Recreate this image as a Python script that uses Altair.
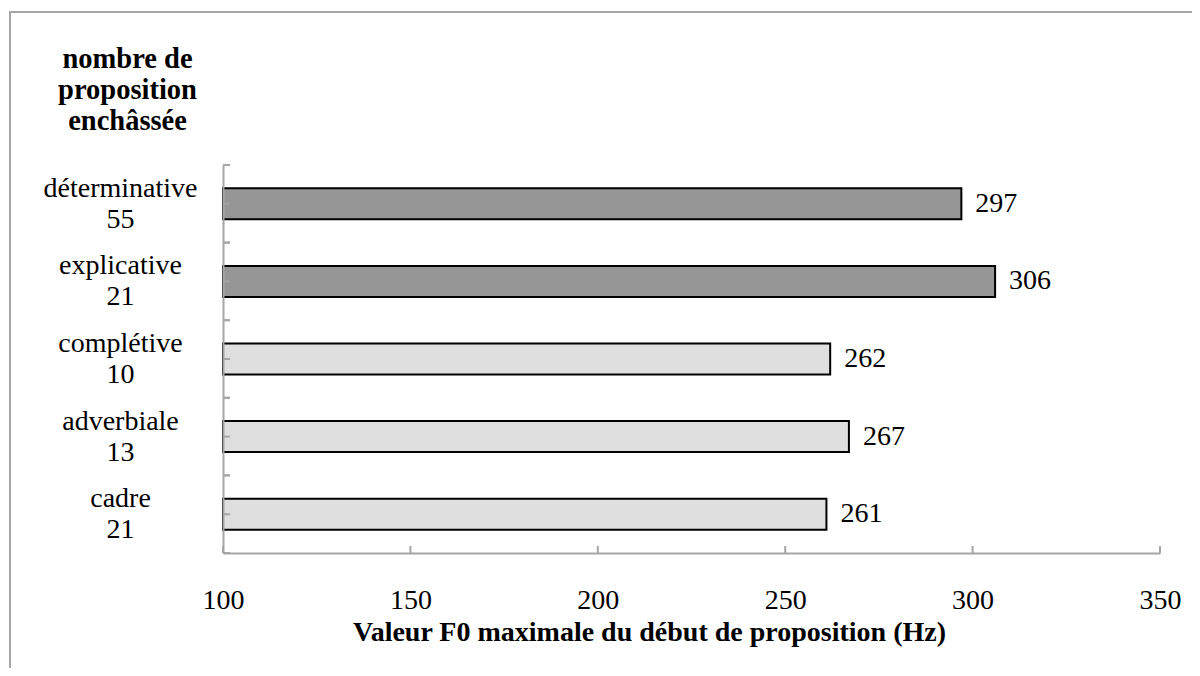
import altair as alt
import pandas as pd

categories = ["déterminative", "explicative", "complétive", "adverbiale", "cadre"]
counts = ["55", "21", "10", "13", "21"]
values = [297, 306, 262, 267, 261]
groups = ["foncé", "foncé", "clair", "clair", "clair"]
x_ticks = [100, 150, 200, 250, 300, 350]
y_title = ["nombre de", "proposition", "enchâssée"]
x_title = "Valeur F0 maximale du début de proposition (Hz)"

labels = [f"{c}|{n}" for c, n in zip(categories, counts)]
df = pd.DataFrame({"label": labels, "value": values, "group": groups})
ticks_df = pd.DataFrame({"v": x_ticks})

FONT = "Liberation Serif"
GRAY = "#a6a6a6"
W, H = 937, 388
FS = 28

xscale = alt.Scale(domain=[100, 350], zero=False, nice=False)
xaxis = alt.Axis(
    values=x_ticks, ticks=False, grid=False, domainColor=GRAY, domainWidth=2,
    labelFont=FONT, labelFontSize=FS, labelColor="black", labelBaseline="alphabetic",
    labelPadding=55, labelFlush=False,
    title=x_title, titleFont=FONT, titleFontSize=FS, titleFontWeight="bold",
    titleColor="black", titleX=426, titleY=87, titleAlign="center",
    titleBaseline="alphabetic", zindex=1,
)
yaxis = alt.Axis(
    ticks=False, grid=False, domainColor=GRAY, domainWidth=2,
    labelFont=FONT, labelFontSize=FS, labelColor="black", labelAlign="center",
    labelBaseline="middle", labelPadding=103, labelLineHeight=31, labelOffset=-15,
    labelExpr="split(datum.label, '|')",
    title=y_title, titleFont=FONT, titleFontSize=28.5, titleFontWeight="bold",
    titleColor="black", titleAngle=0, titleX=-96, titleY=-121,
    titleAlign="center", titleBaseline="top", titleLineHeight=31, zindex=1,
)
yscale = alt.Scale(paddingInner=0, paddingOuter=0)


def yenc(bp=None):
    kw = dict(sort=labels, axis=yaxis, scale=yscale)
    if bp is not None:
        kw["bandPosition"] = bp
    return alt.Y("label:N", **kw)


base = alt.Chart(df)

bars = base.mark_bar(size=31, stroke="black", strokeWidth=2).encode(
    y=yenc(),
    x=alt.X("value:Q", scale=xscale, axis=xaxis),
    x2=alt.datum(100),
    color=alt.Color("group:N", scale=alt.Scale(domain=["foncé", "clair"],
                                               range=["#969696", "#dfdfdf"]), legend=None),
)

texts = base.mark_text(align="left", baseline="middle", dx=14, font=FONT,
                       fontSize=FS, color="black").encode(
    y=yenc(),
    x=alt.X("value:Q", scale=xscale, axis=xaxis),
    text=alt.Text("value:Q"),
)

yticks = []
for bp in [0, 0.5, 1]:
    yticks.append(base.mark_rule(color=GRAY, strokeWidth=2).encode(
        y=yenc(bp), x=alt.value(0), x2=alt.value(7)))

xticks = alt.Chart(ticks_df).mark_rule(color=GRAY, strokeWidth=2).encode(
    x=alt.X("v:Q", scale=xscale, axis=xaxis),
    y=alt.value(H), y2=alt.value(H - 7),
)

border = alt.Chart(pd.DataFrame({"a": [0]})).mark_rect(
    fill=None, fillOpacity=0, stroke=GRAY, strokeWidth=2).encode(
    x=alt.value(-213), x2=alt.value(1400), y=alt.value(-153), y2=alt.value(900),
)

chart = alt.layer(border, bars, *yticks, xticks, texts).properties(
    width=W, height=H,
    autosize=alt.AutoSizeParams(type="none"),
    padding={"left": 215, "top": 157, "right": 32, "bottom": 115},
    background="white",
).configure_view(stroke=None)

chart.save("out.html", embed_options={"renderer": "svg", "actions": False})
